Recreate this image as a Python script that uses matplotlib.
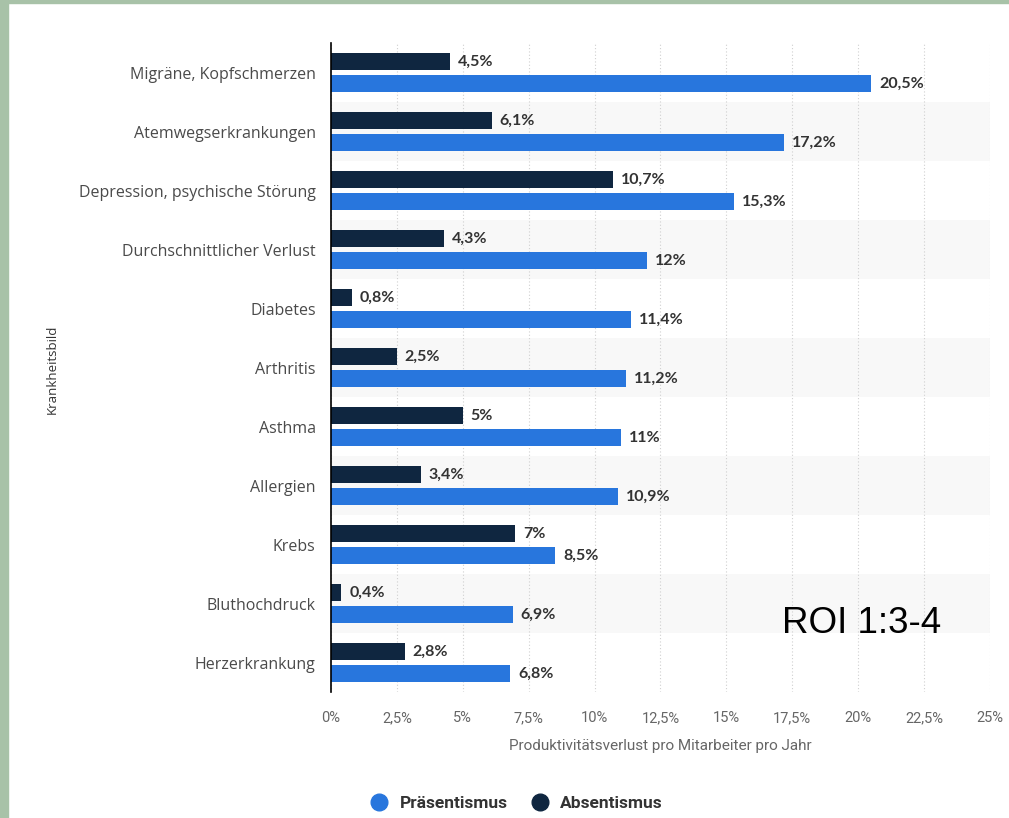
# Produktivitaetsverlust nach Krankheitsbild - horizontal grouped bars

import numpy as np
import matplotlib.pyplot as plt
from matplotlib.patches import Rectangle
from matplotlib.lines import Line2D

categories = [
    "Migräne, Kopfschmerzen",
    "Atemwegserkrankungen",
    "Depression, psychische Störung",
    "Durchschnittlicher Verlust",
    "Diabetes",
    "Arthritis",
    "Asthma",
    "Allergien",
    "Krebs",
    "Bluthochdruck",
    "Herzerkrankung",
]
absentismus = [4.5, 6.1, 10.7, 4.3, 0.8, 2.5, 5.0, 3.4, 7.0, 0.4, 2.8]
praesentismus = [20.5, 17.2, 15.3, 12.0, 11.4, 11.2, 11.0, 10.9, 8.5, 6.9, 6.8]
xticks = [0, 2.5, 5, 7.5, 10, 12.5, 15, 17.5, 20, 22.5, 25]

blue = "#2876dd"
dark = "#0f2640"


def fmt(v):
    s = f"{v:g}".replace(".", ",")
    return s + "%"


fig = plt.figure(figsize=(10.09, 8.18), dpi=100)
ax = fig.add_axes([0.328, 0.154, 0.653, 0.793])

# green frame strips
fig.patches.append(Rectangle((0, 0), 8 / 1009, 1, transform=fig.transFigure,
                             color="#a8c2a8", zorder=10))
fig.patches.append(Rectangle((0, 1 - 3 / 818), 1, 3 / 818, transform=fig.transFigure,
                             color="#a8c2a8", zorder=10))

n = len(categories)
y = np.arange(n)
h = 0.29

# alternating row bands
for i in range(n):
    if i % 2 == 1:
        ax.axhspan(i - 0.5, i + 0.5, color="#f8f8f8", zorder=0, lw=0)

ax.barh(y - 0.185, absentismus, height=h, color=dark, zorder=3)
ax.barh(y + 0.185, praesentismus, height=h, color=blue, zorder=3)

for i in range(n):
    ax.text(absentismus[i] + 0.3, y[i] - 0.185, fmt(absentismus[i]), va="center",
            ha="left", fontsize=11.5, fontweight="bold", color="#333333",
            family="Lato", zorder=4)
    ax.text(praesentismus[i] + 0.3, y[i] + 0.185, fmt(praesentismus[i]), va="center",
            ha="left", fontsize=11.5, fontweight="bold", color="#333333",
            family="Lato", zorder=4)

ax.set_ylim(n - 0.5, -0.5)
ax.set_xlim(0, 25)
ax.set_yticks(y)
ax.set_yticklabels(categories, fontsize=11.5, color="#4a4a4a", family="Open Sans")
ax.set_xticks(xticks)
ax.set_xticklabels([fmt(t) for t in xticks], fontsize=10.5, color="#666666",
                   family="Roboto")
ax.tick_params(axis="y", length=0, pad=11)
ax.tick_params(axis="x", length=0, pad=14)

ax.grid(axis="x", color="#d0d0d0", linestyle=(0, (1, 2)), lw=0.8, zorder=1)
for s in ["top", "right", "bottom"]:
    ax.spines[s].set_visible(False)
ax.spines["left"].set_color("#000000")
ax.spines["left"].set_linewidth(1.2)
ax.spines["left"].set_zorder(5)

ax.set_xlabel("Produktivitätsverlust pro Mitarbeiter pro Jahr", fontsize=11,
              color="#666666", family="Roboto", labelpad=10)
fig.text(0.052, 0.548, "Krankheitsbild", rotation=90, ha="center", va="center",
         fontsize=9.5, color="#333333", family="Open Sans")

handles = [
    Line2D([], [], marker="o", ls="", markersize=12, color=blue),
    Line2D([], [], marker="o", ls="", markersize=12, color=dark),
]
fig.legend(handles, ["Präsentismus", "Absentismus"], loc="center",
           bbox_to_anchor=(0.508, 0.018), ncol=2, frameon=False,
           prop={"family": "Roboto", "weight": "bold", "size": 12.5},
           handletextpad=0.2, columnspacing=0.8, labelcolor="#333333")

fig.text(0.775, 0.238, "ROI 1:3-4", fontsize=26.5,
         family="Liberation Sans", color="#000000", ha="left", va="center")

fig.savefig("out.png", dpi=100)
